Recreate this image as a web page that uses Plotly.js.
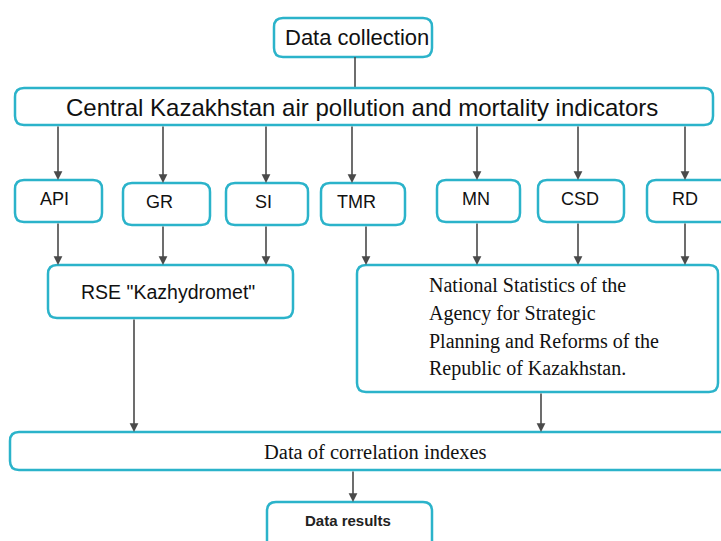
<!DOCTYPE html>
<html>
<head>
<meta charset="utf-8">
<script src="https://cdn.plot.ly/plotly-3.0.1.min.js"></script>
<style>html,body{margin:0;padding:0;background:#fff;}</style>
</head>
<body>
<div id="chart" style="width:721px;height:541px;"></div>
<script>
// ---- content ----
const topLabel = "Data collection";
const mainLabel = "Central Kazakhstan air pollution and mortality indicators";
const indicatorLabels = ["API", "GR", "SI", "TMR", "MN", "CSD", "RD"];
const kazhydrometLabel = 'RSE "Kazhydromet"';
const nationalStatsLines = ["National Statistics of the", "Agency for Strategic", "Planning and Reforms of the", "Republic of Kazakhstan."];
const indicatorSource = [0, 0, 0, 1, 1, 1, 1];
const correlationLabel = "Data of correlation indexes";
const resultLabel = "Data results";

// ---- geometry (pixel space) ----
const topBox = {x0: 274, x1: 432, y0: 18, y1: 57};
const mainBox = {x0: 15, x1: 713, y0: 88, y1: 125};
const indBoxes = [
  {x0: 15, x1: 102, y0: 180, y1: 222, ax: 58, bx: 58, tx: 54},
  {x0: 123, x1: 210, y0: 183, y1: 225, ax: 163, bx: 163, tx: 159},
  {x0: 226, x1: 308, y0: 183, y1: 225, ax: 266, bx: 266, tx: 263},
  {x0: 321, x1: 405, y0: 183, y1: 225, ax: 352, bx: 366, tx: 356},
  {x0: 437, x1: 520, y0: 180, y1: 222, ax: 477, bx: 477, tx: 476},
  {x0: 538, x1: 624, y0: 180, y1: 222, ax: 578, bx: 578, tx: 580},
  {x0: 647, x1: 735, y0: 180, y1: 222, ax: 685, bx: 685, tx: 685}
];
const srcBoxes = [
  {x0: 48, x1: 293, y0: 265, y1: 318, outX: 134},
  {x0: 357, x1: 718, y0: 265, y1: 392, outX: 541}
];
const nationalLineY = [285, 313, 341, 368];
const corrBox = {x0: 10, x1: 735, y0: 432, y1: 470};
const resBox = {x0: 267, x1: 432, y0: 502, y1: 560};

const BORDER = "#2bb3ca";
const LINE = "#4a4a4a";

function rr(b, r) {
  const {x0, x1, y0, y1} = b;
  return `M${x0+r},${y0} L${x1-r},${y0} Q${x1},${y0} ${x1},${y0+r} L${x1},${y1-r} Q${x1},${y1} ${x1-r},${y1} ` +
         `L${x0+r},${y1} Q${x0},${y1} ${x0},${y1-r} L${x0},${y0+r} Q${x0},${y0} ${x0+r},${y0} Z`;
}
const shapes = [];
const annotations = [];
function box(b, r) {
  shapes.push({type: "path", xref: "x", yref: "y", path: rr(b, r || 9),
    line: {color: BORDER, width: 2.5}, fillcolor: "rgba(255,255,255,0)", layer: "above"});
}
function label(x, y, text, font, xanchor) {
  annotations.push({x: x, y: y, xref: "x", yref: "y", text: text, showarrow: false,
    font: font, align: "center", xanchor: xanchor || "center", yanchor: "middle"});
}
function arrow(x, y0, y1) {
  annotations.push({x: x, y: y1, ax: x, ay: y0, xref: "x", yref: "y", axref: "x", ayref: "y",
    text: "", showarrow: true, arrowhead: 2, arrowsize: 1.1, arrowwidth: 1.6, arrowcolor: LINE, standoff: 0});
}
function line(x0, y0, x1, y1) {
  shapes.push({type: "line", xref: "x", yref: "y", x0: x0, y0: y0, x1: x1, y1: y1,
    line: {color: LINE, width: 1.6}});
}

const sans = "Liberation Sans, Arial, sans-serif";
const serif = "Liberation Serif, Times New Roman, serif";

// top box
box(topBox);
label(357, 37, topLabel, {family: sans, size: 22, color: "#111"});
line(355, topBox.y1, 355, mainBox.y0);
// main box
box(mainBox);
label(362, 107, mainLabel, {family: sans, size: 24, color: "#111"});
// indicator boxes
indBoxes.forEach((b, i) => {
  arrow(b.ax, mainBox.y1, b.y0);
  box(b);
  label(b.tx, b.y0 + 19, indicatorLabels[i], {family: sans, size: 18, color: "#111"});
  const s = srcBoxes[indicatorSource[i]];
  arrow(b.bx, b.y1, s.y0);
});
// source boxes
box(srcBoxes[0]);
label(168, 292, kazhydrometLabel, {family: sans, size: 19.5, color: "#111"});
box(srcBoxes[1]);
nationalStatsLines.forEach((t, i) => label(427, nationalLineY[i], t, {family: serif, size: 20, color: "#111"}, "left"));
srcBoxes.forEach(s => arrow(s.outX, s.y1, corrBox.y0));
// correlation box
box(corrBox);
label(375, 452, correlationLabel, {family: serif, size: 20.5, color: "#111"});
arrow(353, corrBox.y1, resBox.y0);
box(resBox);
label(348, 520, "<b>" + resultLabel + "</b>", {family: sans, size: 15, color: "#222"});

const layout = {
  width: 721, height: 541,
  margin: {l: 0, r: 0, t: 0, b: 0},
  paper_bgcolor: "#ffffff", plot_bgcolor: "#ffffff",
  xaxis: {range: [0, 721], visible: false, fixedrange: true},
  yaxis: {range: [541, 0], visible: false, fixedrange: true},
  showlegend: false,
  shapes: shapes,
  annotations: annotations
};
Plotly.newPlot("chart", [{x: [], y: [], type: "scatter", mode: "markers"}], layout, {staticPlot: true, displayModeBar: false});
</script>
</body>
</html>
